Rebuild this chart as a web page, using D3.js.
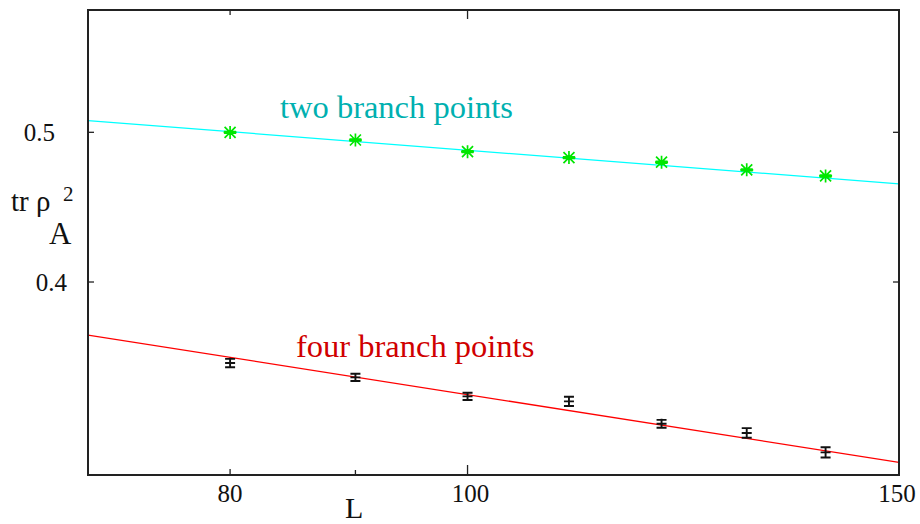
<!DOCTYPE html>
<html>
<head>
<meta charset="utf-8">
<script src="https://cdn.jsdelivr.net/npm/d3@7/dist/d3.min.js"></script>
<style>
  html, body { margin: 0; padding: 0; background: #fff; }
  text { font-family: "Liberation Serif", "Times New Roman", Times, "DejaVu Serif", serif; }
</style>
</head>
<body>
<svg id="chart" width="920" height="524"></svg>
<script>
// Subsystem size L
const sizes = [80, 90, 100, 110, 120, 130, 140];

// tr rho_A^2 with two branch points, and its statistical errors
const twoBranch = [0.4999, 0.4943, 0.4858, 0.4815, 0.4782, 0.4728, 0.4685];
const twoBranchErr = [0.0006, 0.0006, 0.0006, 0.0006, 0.0006, 0.0006, 0.0006];

// tr rho_A^2 with four branch points, and its statistical errors
const fourBranch = [0.3545, 0.3470, 0.3373, 0.3348, 0.3238, 0.3194, 0.3103];
const fourBranchErr = [0.0022, 0.0019, 0.0018, 0.0023, 0.0019, 0.0023, 0.0024];

// Power-law fits (straight lines on log-log axes), given at the ends of the L range
const fitL = [70, 150];
const fitTwo = [0.5088, 0.4630];
const fitFour = [0.3696, 0.3057];

// Axis ticks
const xTickLabels = [80, 100, 150];
const xMinorTicks = [90];
const yTickLabels = [0.4, 0.5];

const serif = "Liberation Serif, Times New Roman, DejaVu Serif, serif";
const svg = d3.select("#chart");
const pLeft = 88, pRight = 899, pTop = 10, pBottom = 475;

const x = d3.scaleLog().domain([70, 150]).range([pLeft, pRight]);
const y = d3.scaleLog().domain([0.3, 0.6]).range([pBottom, pTop]);

svg.append("defs").append("clipPath").attr("id", "plotClip")
  .append("rect").attr("x", pLeft).attr("y", pTop)
  .attr("width", pRight - pLeft).attr("height", pBottom - pTop);

const plot = svg.append("g").attr("clip-path", "url(#plotClip)");

const line = d3.line().x(d => x(d[0])).y(d => y(d[1]));

// fit lines
plot.append("path")
  .datum(fitL.map((l, i) => [l, fitTwo[i]]))
  .attr("d", line).attr("fill", "none")
  .attr("stroke", "#00ffff").attr("stroke-width", 1.3);

plot.append("path")
  .datum(fitL.map((l, i) => [l, fitFour[i]]))
  .attr("d", line).attr("fill", "none")
  .attr("stroke", "#ff0000").attr("stroke-width", 1.3);

// two branch points: green asterisks with error bars
const green = "#00e600";
sizes.forEach((l, i) => {
  const cx = x(l), cy = y(twoBranch[i]);
  const y1 = y(twoBranch[i] + twoBranchErr[i]);
  const y2 = y(twoBranch[i] - twoBranchErr[i]);
  const r = 6.5, c = 5.5;
  plot.append("path").attr("d",
    `M${cx - r},${cy}H${cx + r}M${cx},${cy - r}V${cy + r}` +
    `M${cx - c},${cy - c}L${cx + c},${cy + c}M${cx - c},${cy + c}L${cx + c},${cy - c}` +
    `M${cx - 6},${y1}H${cx + 6}M${cx - 6},${y2}H${cx + 6}`)
    .attr("stroke", green).attr("stroke-width", 1.7).attr("fill", "none");
});

// four branch points: black error bars
sizes.forEach((l, i) => {
  const cx = x(l), cy = y(fourBranch[i]);
  const y1 = y(fourBranch[i] + fourBranchErr[i]);
  const y2 = y(fourBranch[i] - fourBranchErr[i]);
  const w = 5;
  plot.append("path")
    .attr("d", `M${cx},${y1 - 1}V${y2 + 1}M${cx - w},${y1}H${cx + w}M${cx - w},${y2}H${cx + w}M${cx - w},${cy}H${cx + w}`)
    .attr("stroke", "#111").attr("stroke-width", 1.9).attr("fill", "none");
});

// frame
svg.append("rect")
  .attr("x", pLeft).attr("y", pTop)
  .attr("width", pRight - pLeft).attr("height", pBottom - pTop)
  .attr("fill", "none").attr("stroke", "#222").attr("stroke-width", 2);

// tick marks
const tickG = svg.append("g").attr("stroke", "#222").attr("stroke-width", 1.3);
xTickLabels.forEach(v => {
  const len = v === 100 ? 10 : 6;
  tickG.append("line").attr("x1", x(v)).attr("x2", x(v)).attr("y1", pBottom).attr("y2", pBottom - len);
  tickG.append("line").attr("x1", x(v)).attr("x2", x(v)).attr("y1", pTop).attr("y2", pTop + len - 1);
});
xMinorTicks.forEach(v => {
  tickG.append("line").attr("x1", x(v)).attr("x2", x(v)).attr("y1", pBottom).attr("y2", pBottom - 5);
});
yTickLabels.forEach(v => {
  tickG.append("line").attr("x1", pLeft).attr("x2", pLeft + 6).attr("y1", y(v)).attr("y2", y(v));
  tickG.append("line").attr("x1", pRight).attr("x2", pRight - 6).attr("y1", y(v)).attr("y2", y(v));
});

// tick labels
svg.append("g").selectAll("text").data(xTickLabels).join("text")
  .attr("x", d => x(d) + (d === 100 ? 3 : 0) - (d === 150 ? 2 : 0))
  .attr("y", 502)
  .attr("text-anchor", "middle")
  .attr("font-family", serif)
  .attr("font-size", 25).attr("fill", "#111")
  .text(d => d3.format("")(d));

svg.append("g").selectAll("text").data(yTickLabels).join("text")
  .attr("x", d => d === 0.5 ? 55 : 67)
  .attr("y", d => y(d) + 9)
  .attr("text-anchor", "end")
  .attr("font-family", serif)
  .attr("font-size", 25).attr("fill", "#111")
  .text(d => d3.format(".1f")(d));

// axis titles
svg.append("text").attr("x", 345).attr("y", 518)
  .attr("font-family", serif)
  .attr("font-size", 30).attr("fill", "#111").text("L");

const yt = svg.append("g").attr("fill", "#111").attr("font-family", serif);
yt.append("text").attr("x", 11).attr("y", 211).attr("font-size", 29).text("tr ρ");
yt.append("text").attr("x", 49).attr("y", 244).attr("font-size", 31).text("A");
yt.append("text").attr("x", 63).attr("y", 201).attr("font-size", 21).text("2");

// series labels
svg.append("text").attr("x", 280).attr("y", 118)
  .attr("font-family", serif)
  .attr("font-size", 32.5).attr("fill", "#00b0b0").text("two branch points");
svg.append("text").attr("x", 296).attr("y", 357)
  .attr("font-family", serif)
  .attr("font-size", 32.5).attr("fill", "#d00000").text("four branch points");
</script>
</body>
</html>
